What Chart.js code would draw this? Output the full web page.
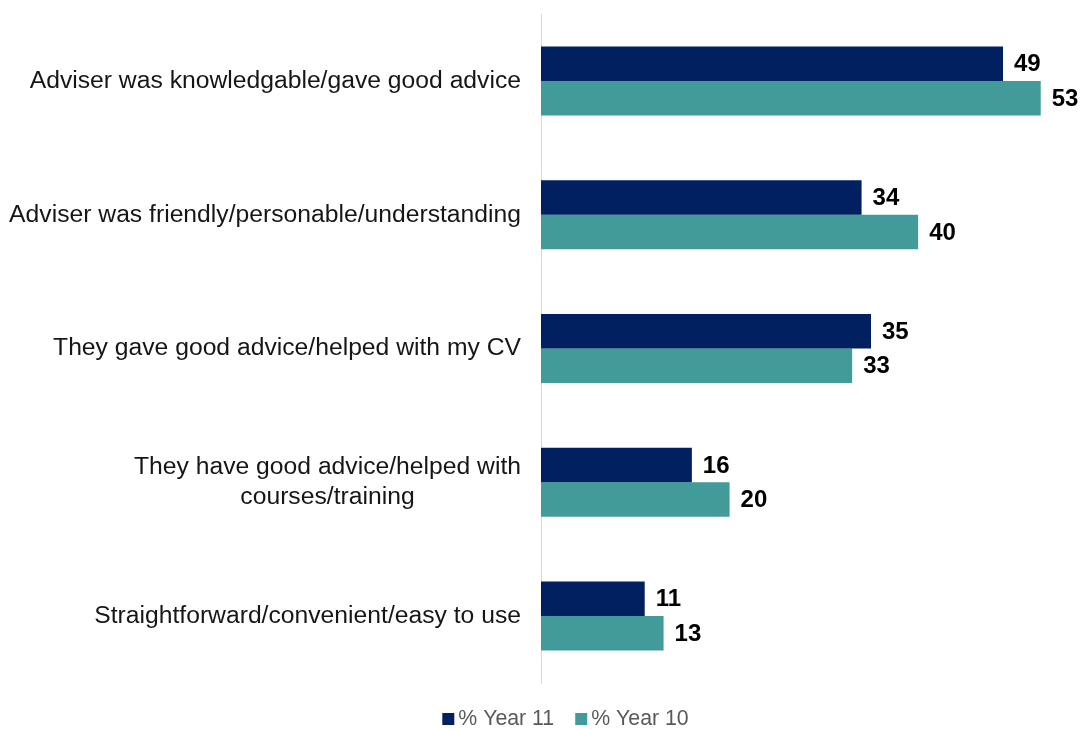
<!DOCTYPE html>
<html>
<head>
<meta charset="utf-8">
<style>
  html, body { margin: 0; padding: 0; background: #ffffff; }
  #wrap { width: 1080px; height: 729px; position: relative; }
</style>
<script src="https://cdn.jsdelivr.net/npm/chart.js@4/dist/chart.umd.min.js"></script>
</head>
<body>
<div id="wrap"><canvas id="chart" width="1080" height="729"></canvas></div>
<script>
// Reasons given for rating the careers advice positively (% of pupils)
const categories = [
  'Adviser was knowledgable/gave good advice',
  'Adviser was friendly/personable/understanding',
  'They gave good advice/helped with my CV',
  ['They have good advice/helped with', 'courses/training'],
  'Straightforward/convenient/easy to use'
];
const year11 = [49, 34, 35, 16, 11];
const year10 = [53, 40, 33, 20, 13];
const seriesNames = ['% Year 11', '% Year 10'];
const seriesColors = ['#002060', '#429A99'];

const FONT = '"Liberation Sans", Arial, sans-serif';

// Category labels: right-aligned block, multi-line labels centred within the block
const categoryLabels = {
  id: 'categoryLabels',
  afterDraw(chart) {
    const ctx = chart.ctx;
    const y = chart.scales.y;
    const right = y.left + y.width - 20;
    const lineH = 30;
    ctx.save();
    ctx.font = '24.7px ' + FONT;
    ctx.fillStyle = '#161616';
    ctx.textAlign = 'center';
    ctx.textBaseline = 'middle';
    chart.data.labels.forEach((lab, i) => {
      const lines = Array.isArray(lab) ? lab : [lab];
      const w = Math.max(...lines.map(l => ctx.measureText(l).width));
      const cx = right - w / 2;
      const cy = y.getPixelForValue(i);
      const top = cy - (lines.length - 1) * lineH / 2;
      lines.forEach((l, k) => ctx.fillText(l, cx, top + k * lineH));
    });
    ctx.restore();
  }
};

// Value labels at the end of each bar
const valueLabels = {
  id: 'valueLabels',
  afterDatasetsDraw(chart) {
    const ctx = chart.ctx;
    ctx.save();
    ctx.font = 'bold 24px ' + FONT;
    ctx.fillStyle = '#000000';
    ctx.textAlign = 'left';
    ctx.textBaseline = 'middle';
    chart.data.datasets.forEach((ds, di) => {
      chart.getDatasetMeta(di).data.forEach((bar, i) => {
        ctx.fillText(String(ds.data[i]), bar.x + 11, bar.y + 1);
      });
    });
    ctx.restore();
  }
};

// Legend row under the plot
const bottomLegend = {
  id: 'bottomLegend',
  afterDraw(chart) {
    const ctx = chart.ctx;
    const box = 12, gap = 4, itemGap = 21;
    ctx.save();
    ctx.font = '21.3px ' + FONT;
    ctx.textBaseline = 'middle';
    ctx.textAlign = 'left';
    const items = chart.data.datasets.map(ds => ({
      text: ds.label, color: ds.backgroundColor, w: ctx.measureText(ds.label).width
    }));
    const total = items.reduce((s, it) => s + box + gap + it.w, 0) + itemGap * (items.length - 1);
    let x = 565.5 - total / 2;
    const cy = 719;
    items.forEach(it => {
      ctx.fillStyle = it.color;
      ctx.fillRect(x, cy - box / 2, box, box);
      x += box + gap;
      ctx.fillStyle = '#595959';
      ctx.fillText(it.text, x, cy);
      x += it.w + itemGap;
    });
    ctx.restore();
  }
};

new Chart(document.getElementById('chart'), {
  type: 'bar',
  data: {
    labels: categories,
    datasets: [
      { label: seriesNames[0], data: year11, backgroundColor: seriesColors[0] },
      { label: seriesNames[1], data: year10, backgroundColor: seriesColors[1] }
    ]
  },
  options: {
    indexAxis: 'y',
    responsive: false,
    animation: false,
    datasets: { bar: { categoryPercentage: 0.516, barPercentage: 1.0 } },
    layout: { padding: { top: 14, bottom: 46, left: 0, right: 11 } },
    scales: {
      x: { display: false, min: 0, max: 56 },
      y: {
        ticks: { display: false },
        grid: { display: false },
        border: { display: true, color: '#d9d9d9', width: 1 },
        afterFit(scale) { scale.width = 541; }
      }
    },
    plugins: {
      legend: { display: false },
      tooltip: { enabled: false }
    }
  },
  plugins: [categoryLabels, valueLabels, bottomLegend]
});
</script>
</body>
</html>
